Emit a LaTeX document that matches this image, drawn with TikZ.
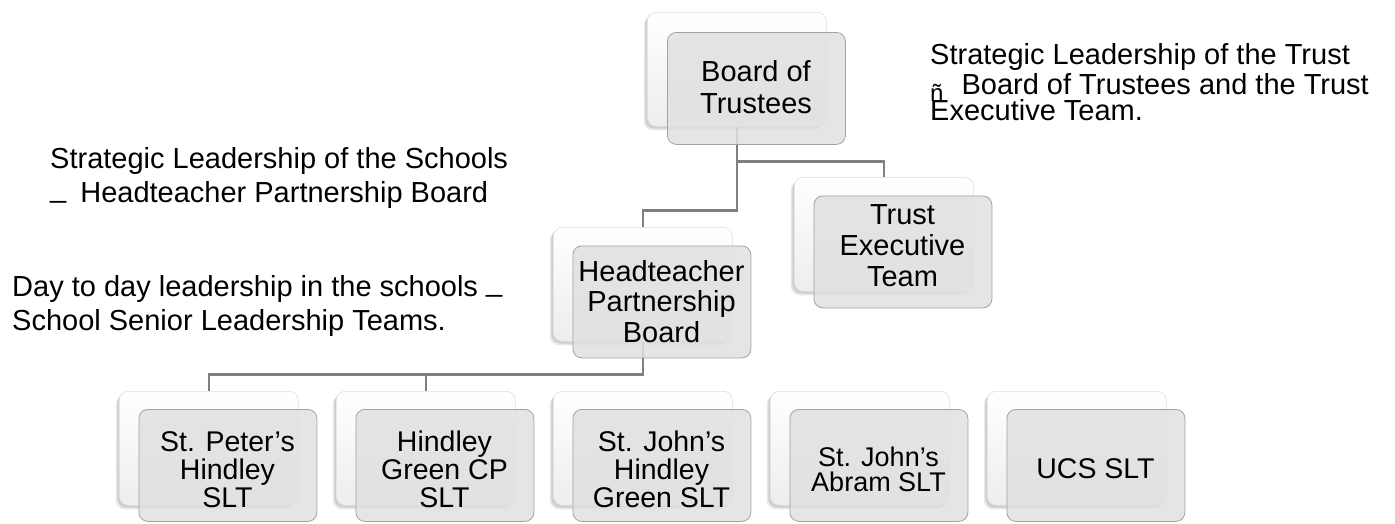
\documentclass[tikz,border=0pt]{standalone}
\usepackage{fontspec}
\setmainfont{Liberation Sans}
\usetikzlibrary{shadows,calc}
\pgfdeclarelayer{background}
\pgfsetlayers{background,main}
\definecolor{lineGray}{RGB}{128,128,128}
\definecolor{frontFill}{RGB}{224,224,224}
\definecolor{frontEdge}{RGB}{162,162,162}
\definecolor{backEdge}{RGB}{222,222,222}
% centred and left-aligned line stacks with a fixed line pitch; baseline = first line
\newcommand\cstack[2]{{\lineskiplimit=-100pt\baselineskip=#1\relax\vtop{\halign{\hfil##\hfil\cr#2\crcr}}}}
\newcommand\lstack[2]{{\lineskiplimit=-100pt\baselineskip=#1\relax\vtop{\halign{##\hfil\cr#2\crcr}}}}
\newcommand\lowbar{\raisebox{5pt}{\_}}
\tikzset{
  backcard/.style={draw=backEdge, line width=0.6pt, rounded corners=9pt,
    top color=white, bottom color=gray!14,
    minimum width=179pt, minimum height=114pt, inner sep=0pt, anchor=north west,
    drop shadow={shadow xshift=-3.5pt, shadow yshift=-4pt, opacity=0.18},
    drop shadow={shadow xshift=-2pt, shadow yshift=-2.2pt, opacity=0.25}},
  frontcard/.style={draw=frontEdge, line width=0.8pt, rounded corners=9pt,
    fill=frontFill, fill opacity=0.85,
    minimum width=178pt, minimum height=112pt, inner sep=0pt, anchor=north west},
  boxtext/.style={anchor=base, inner sep=0pt, font=\fontsize{29}{31}\selectfont},
  smalltext/.style={anchor=base, inner sep=0pt, font=\fontsize{28.5}{28}\selectfont},
  sidetext/.style={anchor=base west, inner sep=0pt, font=\fontsize{29}{34}\selectfont},
  connline/.style={draw=lineGray, line width=2.4pt}
}
\begin{document}
\begin{tikzpicture}[x=1pt,y=-1pt]
\useasboundingbox (0,0) rectangle (1395,523);

% ---- cards: back (white) and front (grey) ----
\node[backcard]  (boardB) at (647,12) {};
\node[frontcard] (boardF) at (667,32) {};
\node[backcard]  (trustB) at (794,177) {};
\node[frontcard] (trustF) at (813.5,195.5) {};
\node[backcard]  (hpbB)   at (553,227) {};
\node[frontcard] (hpbF)   at (572.5,245.5) {};
\node[backcard]  (c1B) at (119,391) {};
\node[frontcard] (c1F) at (138.5,409) {};
\node[backcard]  (c2B) at (336,391) {};
\node[frontcard] (c2F) at (355.5,409) {};
\node[backcard]  (c3B) at (553,391) {};
\node[frontcard] (c3F) at (572.5,409) {};
\node[backcard]  (c4B) at (770,391) {};
\node[frontcard] (c4F) at (789.5,409) {};
\node[backcard]  (c5B) at (987,391) {};
\node[frontcard] (c5F) at (1006.5,409) {};

% ---- card texts ----
\node[boxtext] (boardT) at (756,81)    {\cstack{32pt}{Board of\cr Trustees}};
\node[boxtext] (trustT) at (902.5,224) {\cstack{31pt}{Trust\cr Executive\cr Team}};
\node[boxtext] (hpbT)   at (661.5,281) {\cstack{30.5pt}{Headteacher\cr Partnership\cr Board}};
\node[smalltext] (c1T) at (227.5,451) {\cstack{28pt}{St. Peter’s\cr Hindley\cr SLT}};
\node[smalltext] (c2T) at (444.5,451) {\cstack{28pt}{Hindley\cr Green CP\cr SLT}};
\node[smalltext] (c3T) at (661.5,451) {\cstack{28pt}{St. John’s\cr Hindley\cr Green SLT}};
\node[smalltext, font=\fontsize{27}{25}\selectfont] (c4T) at (878.5,466) {\cstack{25pt}{St. John’s\cr Abram SLT}};
\node[smalltext] (c5T) at (1095.5,478) {UCS SLT};

% ---- side texts ----
\node[sidetext] (rtxt) at (930,64) {\lstack{26pt}{Strategic Leadership of the Trust\cr
  \noalign{\vskip4pt}
  \raisebox{-7pt}{\fontsize{24}{24}\selectfont ñ}\hspace{18pt}Board of Trustees and the Trust\cr
  Executive Team.}};
\node[sidetext] (ltxt1) at (50,168) {\lstack{34pt}{Strategic Leadership of the Schools\cr
  \lowbar\hspace{14pt}Headteacher Partnership Board}};
\node[sidetext] (ltxt2) at (12,296) {\lstack{34pt}{Day to day leadership in the schools \lowbar\cr
  School Senior Leadership Teams.}};

% ---- connectors ----
\coordinate (j1) at ($(boardB.south)+(0,35)$);
\coordinate (j2) at ($(boardB.south)+(0,84)$);
\coordinate (j3) at ($(hpbB.south)+(0,33)$);
\begin{pgfonlayer}{background}
  \draw[connline] (boardB.south) -- (j2) -| (hpbB.north);
  \draw[connline] (j1) -| (trustB.north);
  \draw[connline] (hpbB.south) -- (j3) -| (c1B.north);
  \draw[connline] (c2B.north |- j3) -- (c2B.north);
\end{pgfonlayer}
\end{tikzpicture}
\end{document}
